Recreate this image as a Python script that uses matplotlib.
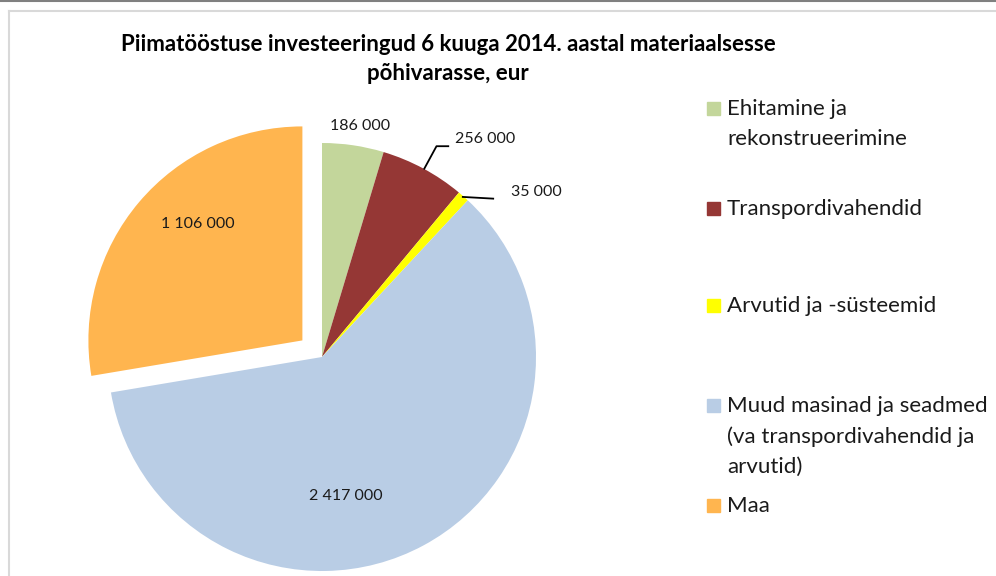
import numpy as np
import matplotlib.pyplot as plt
from matplotlib.patches import Rectangle
from matplotlib.lines import Line2D

plt.rcParams['font.family'] = ['Lato', 'DejaVu Sans']

# Data
categories = ['Ehitamine ja\nrekonstrueerimine', 'Transpordivahendid', 'Arvutid ja -süsteemid',
              'Muud masinad ja seadmed\n(va transpordivahendid ja\narvutid)', 'Maa']
values = [186000, 256000, 35000, 2417000, 1106000]
colors = ['#C3D69B', '#953735', '#FFFF00', '#B9CDE5', '#FFB54F']
explode = [0, 0, 0, 0, 0.12]

title = 'Piimatööstuse investeeringud 6 kuuga 2014. aastal materiaalsesse\npõhivarasse, eur'

W, H = 996, 576
fig = plt.figure(figsize=(W / 100, H / 100), dpi=100)

# pie axes: centre (322, 357) px, radius 214 px
R = 214
lim = 1.25
cx, cy = 322, 357
size = 2 * lim * R
ax = fig.add_axes([(cx - size / 2) / W, (H - cy - size / 2) / H, size / W, size / H])
wedges, _ = ax.pie(values, colors=colors, startangle=90, counterclock=False,
                   explode=explode, radius=1, wedgeprops=dict(linewidth=0))
ax.set_xlim(-lim, lim)
ax.set_ylim(-lim, lim)
ax.set_aspect('equal')
ax.axis('off')

def fmt(v):
    return f'{v:,}'.replace(',', ' ')

# data labels (positions in pie coords)
label_pos = [(0.18, 1.08), (0.76, 1.02), (1.00, 0.77), (0.11, -0.65), (-0.58, 0.62)]
for v, (x, y) in zip(values, label_pos):
    ax.text(x, y, fmt(v), ha='center', va='center', fontsize=11.5, color='#1a1a1a')

# leader lines
ax.add_line(Line2D([0.478, 0.535, 0.59], [0.88, 0.985, 0.985], color='black', lw=1.3))
ax.add_line(Line2D([0.658, 0.80], [0.748, 0.74], color='black', lw=1.3))

# title
fig.text(448 / W, 1 - 59 / H, title, ha='center', va='center', fontsize=16,
         fontweight='bold', linespacing=1.42)

# legend drawn manually
leg_y = [108, 208, 305, 405, 505]
for lab, c, y in zip(categories, colors, leg_y):
    fig.patches.append(Rectangle((707 / W, 1 - (y + 7) / H), 13 / W, 13 / H,
                                 transform=fig.transFigure, color=c))
    fig.text(727 / W, 1 - (y - 9) / H, lab, ha='left', va='top', fontsize=16,
             linespacing=1.63, color='#1a1a1a')

# chart frame
fig.add_artist(Line2D([0, 1], [1 - 0.8 / H, 1 - 0.8 / H], transform=fig.transFigure,
                      color='#808080', lw=1.5))
fig.add_artist(Line2D([9 / W, 1], [1 - 10.5 / H, 1 - 10.5 / H], transform=fig.transFigure,
                      color='#D9D9D9', lw=1.5))
fig.add_artist(Line2D([9 / W, 9 / W], [0, 1 - 10.5 / H], transform=fig.transFigure,
                      color='#D9D9D9', lw=1.5))

fig.savefig('out.png', dpi=100)
